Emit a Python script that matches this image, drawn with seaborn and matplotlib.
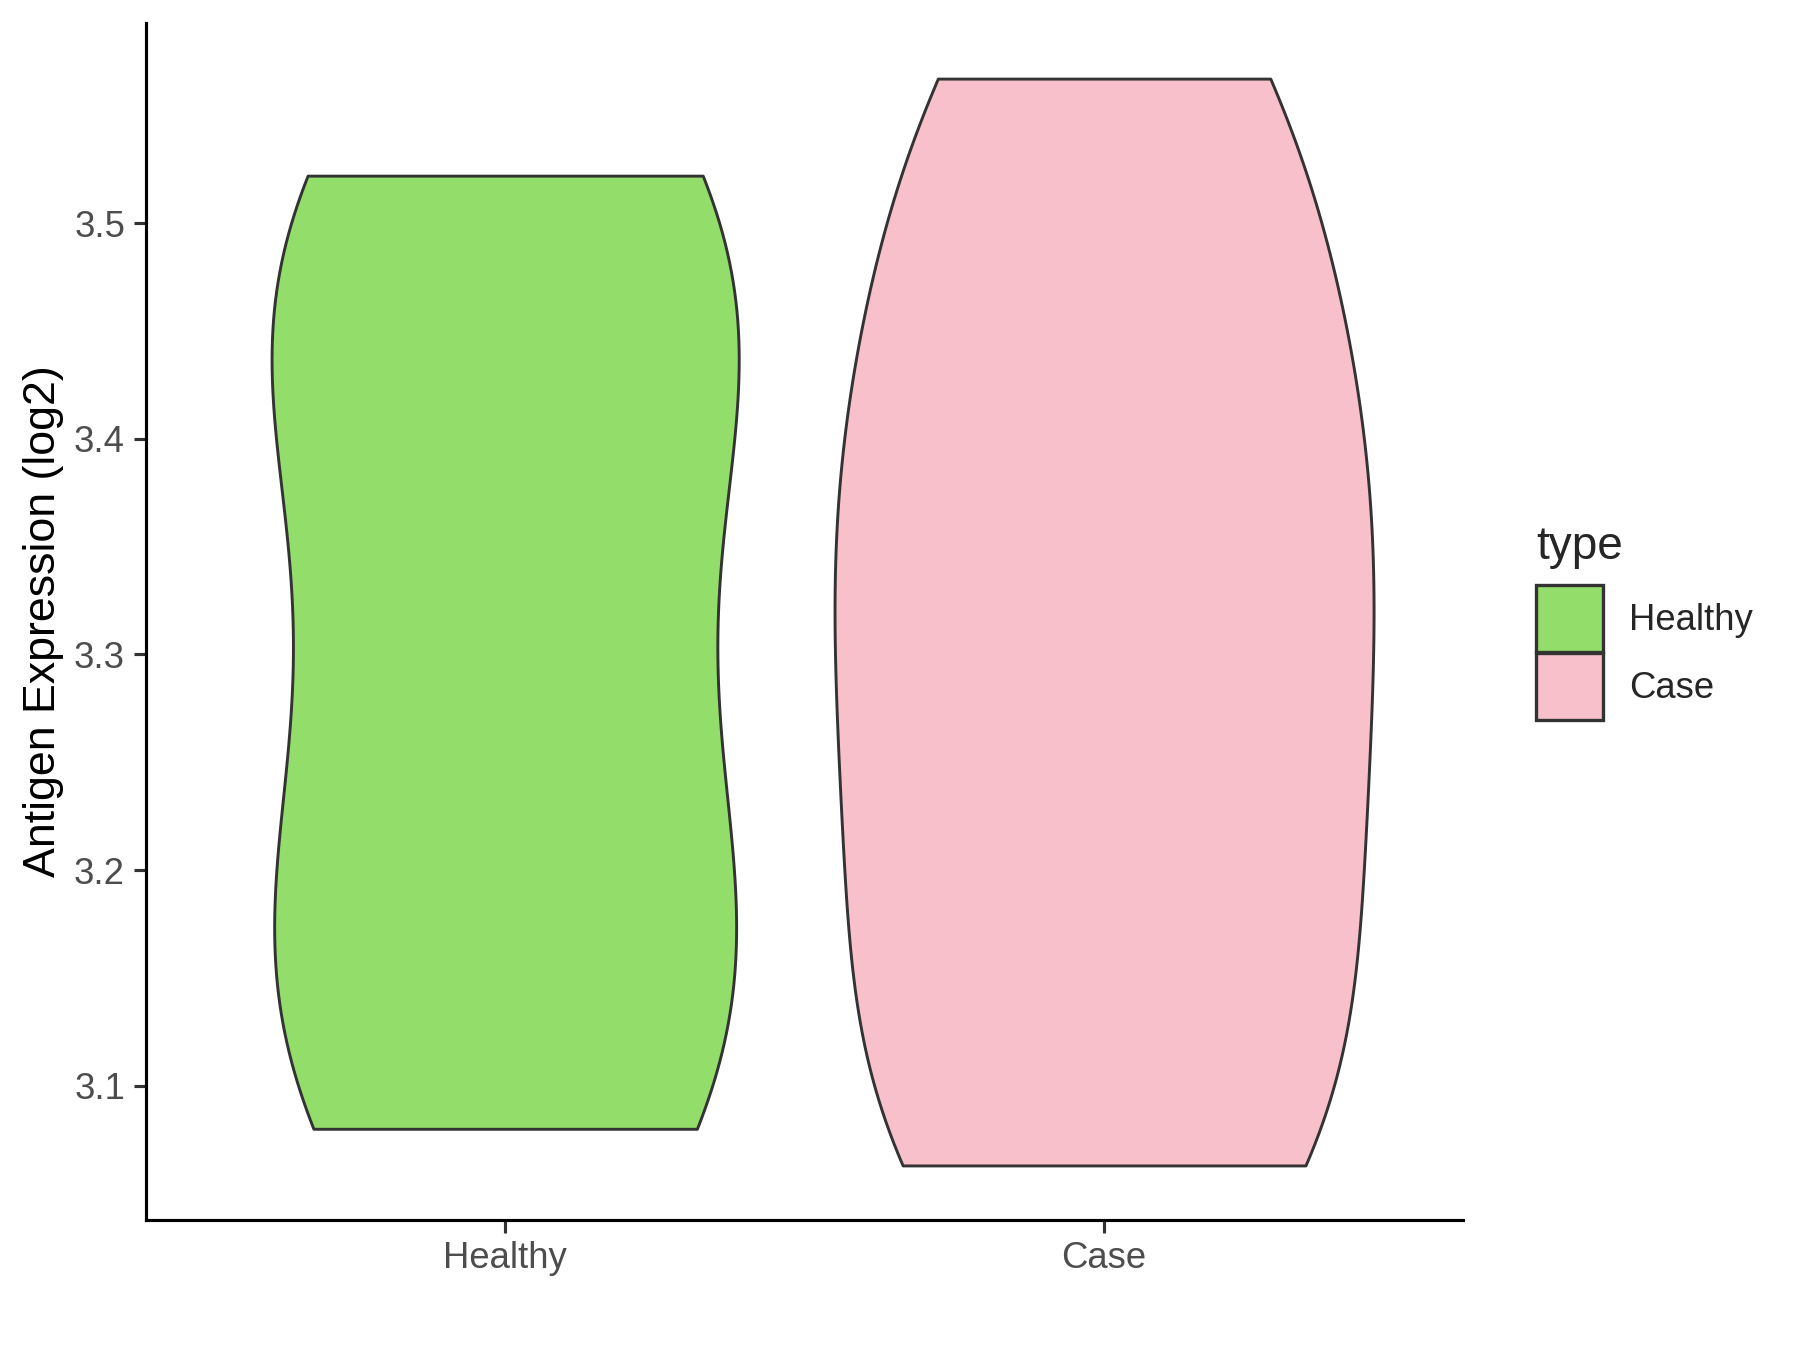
import numpy as np
import pandas as pd
import seaborn as sns
from matplotlib import pyplot as plt
from matplotlib.patches import Patch

# group names and colours
groups = ['Healthy', 'Case']
colors = ['#93DD6B', '#F7C0CB']
widths = [0.78, 0.90]
bw_adj = [1.15, 1.0]

# expression values (log2)
healthy_vals = [3.080, 3.082, 3.090, 3.100, 3.130, 3.175, 3.190, 3.205, 3.260, 3.300,
                3.340, 3.410, 3.425, 3.440, 3.475, 3.500, 3.510, 3.518, 3.522]
case_vals = [3.063, 3.066, 3.070, 3.090, 3.140, 3.200, 3.230, 3.250, 3.270, 3.320,
             3.370, 3.385, 3.400, 3.420, 3.490, 3.545, 3.560, 3.567]

df = pd.DataFrame({
    'type': ['Healthy'] * len(healthy_vals) + ['Case'] * len(case_vals),
    'value': healthy_vals + case_vals,
})

sns.set_style('white')
plt.rcParams['font.family'] = ['Liberation Sans', 'DejaVu Sans']

fig = plt.figure(figsize=(12, 9), dpi=150)
ax = fig.add_axes([0.081, 0.0963, 0.732, 0.887])

for g, w, bw in zip(groups, widths, bw_adj):
    sns.violinplot(data=df[df['type'] == g], x='type', y='value', hue='type',
                   order=groups, hue_order=groups, palette=colors,
                   width=w, cut=0, density_norm='width', inner=None,
                   bw_adjust=bw, linewidth=1.4, linecolor='#333333',
                   saturation=1, legend=False, ax=ax)

ax.set_xlim(-0.6, 1.6)
ax.set_ylim(3.0377, 3.593)
ax.set_yticks([3.1, 3.2, 3.3, 3.4, 3.5])
ax.set_yticklabels(['3.1', '3.2', '3.3', '3.4', '3.5'])
ax.set_xlabel('')
ax.set_ylabel('Antigen Expression (log2)', fontsize=21.5, color='black', labelpad=5)
ax.tick_params(axis='both', labelsize=17.5, labelcolor='#4D4D4D', color='#333333',
               length=6, width=1.5, direction='out', left=True, bottom=True, pad=4)
for s in ['top', 'right']:
    ax.spines[s].set_visible(False)
for s in ['left', 'bottom']:
    ax.spines[s].set_color('black')
    ax.spines[s].set_linewidth(1.5)

handles = [Patch(facecolor=c, edgecolor='#333333', linewidth=1.6, label=g)
           for g, c in zip(groups, colors)]
leg = fig.legend(handles=handles, title='type', loc='center left',
                 bbox_to_anchor=(0.835, 0.533), frameon=False, fontsize=17.5,
                 title_fontsize=22, handlelength=1.85, handleheight=2.45,
                 labelspacing=0.02, handletextpad=0.7, alignment='left')
leg.get_title().set_position((0, 16))

fig.savefig('out.png', dpi=150)
